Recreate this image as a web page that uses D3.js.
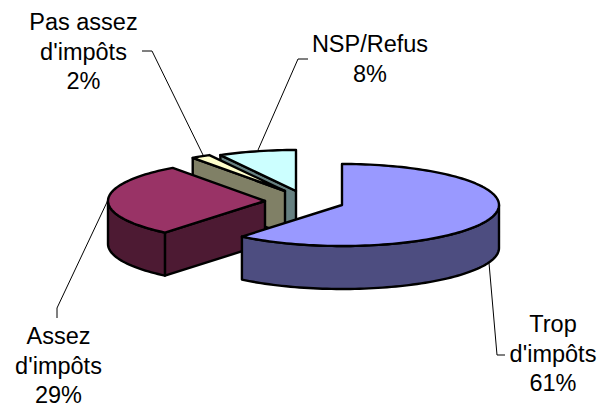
<!DOCTYPE html>
<html><head><meta charset="utf-8">
<script src="https://cdn.jsdelivr.net/npm/d3@7"></script>
<style>html,body{margin:0;padding:0;background:#fff}svg{display:block}text{font-family:"Liberation Sans",Arial,sans-serif;font-size:23.5px;fill:#000}</style>
</head><body><svg id="c" width="599" height="408"></svg>
<script>
const categories=["Trop d'impôts","Assez d'impôts","Pas assez d'impôts","NSP/Refus"];
const values=[61,29,2,8];
const topColors=["#9999FF","#993366","#FFFFCC","#CCFFFF"];
const sideColors=["#4D4D80","#4D1A33","#808066","#668080"];
const centers=[[342,205],[265,201],[285,191],[296,191]];
const labelLines=[["Trop","d'impôts","61%"],["Assez","d'impôts","29%"],["Pas assez","d'impôts","2%"],["NSP/Refus","8%"]];
const labelPos=[[553,332],[58.5,344],[83.5,30],[370,52]];
const leaders=[[[489,263],[497,355],[505,355]],[[108,200],[57,308],[57,318]],[[204,157],[152,51],[142,51]],[[258,150],[298,59],[308,59]]];
const rx=157,ry=41,depth=43;
const svg=d3.select("#c");
const arcs=d3.pie().sort(null)(values);
const line=d3.line();
const xs=d3.scaleLinear().domain([0,1]).range([0,rx]);
const ys=d3.scaleLinear().domain([0,1]).range([0,ry]);
const pt=(c,a,dy=0)=>[c[0]+xs(Math.sin(a)),c[1]-ys(Math.cos(a))+dy];
const samples=(a0,a1)=>{const n=Math.max(2,Math.ceil(Math.abs(a1-a0)/0.03));return d3.range(n+1).map(i=>a0+(a1-a0)*i/n);};
const face=(pts,fill)=>svg.append("path").attr("d",line(pts)+"Z").attr("fill",fill).attr("stroke","#000").attr("stroke-width",2.4).attr("stroke-linejoin","round");
[3,2,1,0].forEach(i=>{
  const a=arcs[i],c=centers[i];
  if(i>=1){face([pt(c,a.startAngle),c,[c[0],c[1]+depth],pt(c,a.startAngle,depth)],sideColors[i]);}
  const s=Math.max(a.startAngle,Math.PI/2),e=Math.min(a.endAngle,Math.PI*1.5);
  if(e>s){const ang=samples(s,e);face(ang.map(t=>pt(c,t)).concat(ang.slice().reverse().map(t=>pt(c,t,depth))),sideColors[i]);}
  face([c].concat(samples(a.startAngle,a.endAngle).map(t=>pt(c,t))),topColors[i]);
});
leaders.forEach(l=>svg.append("path").attr("d",line(l)).attr("fill","none").attr("stroke","#000").attr("stroke-width",1));
labelLines.forEach((ls,i)=>{
  const t=svg.append("text").attr("text-anchor","middle").attr("x",labelPos[i][0]).attr("y",labelPos[i][1]);
  ls.forEach((s,j)=>t.append("tspan").attr("x",labelPos[i][0]).attr("y",labelPos[i][1]+j*29.7).text(s));
});
</script></body></html>
